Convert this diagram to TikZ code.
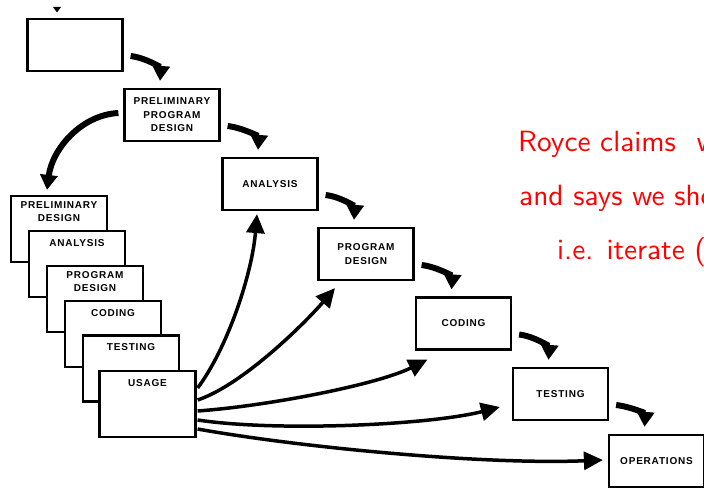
\documentclass[tikz,border=0pt]{standalone}
\usepackage{fontspec}
\usetikzlibrary{arrows.meta,calc}
\newfontfamily\boxfont[LetterSpace=8]{Liberation Sans}
\newfontfamily\notefont{lmsans10-regular.otf}
\begin{document}
\begin{tikzpicture}[x=1pt,y=-1pt,
  boxfnt/.style={font=\boxfont\bfseries\fontsize{10}{13.5}\selectfont},
  box/.style={draw, line width=2.2pt, fill=white, minimum width=95pt, minimum height=52pt, inner sep=0pt, align=center, boxfnt},
  stackbox/.style={draw, line width=2.2pt, fill=white, minimum width=96pt, minimum height=66pt, inner sep=0pt},
  lbl/.style={boxfnt, align=center, inner sep=0pt, anchor=north},
  chain/.style={line width=6pt, -{Triangle[width=17pt,length=15pt]}},
  fan/.style={line width=3.5pt, -{Triangle[width=18pt,length=19pt]}},
  note/.style={font=\notefont\fontsize{29.3}{32}\selectfont, text=red, anchor=base west, inner sep=0pt}]
\useasboundingbox (0,0) rectangle (704,489);
\clip (0,0) rectangle (704,489);
\fill[white] (0,0) rectangle (704,489);

% main cascade
\node[box] (top) at (75,45) {};
\node[box] (ppd) at (172,115) {PRELIMINARY\\PROGRAM\\DESIGN};
\node[box] (an) at (270,184) {ANALYSIS};
\node[box] (pd) at (366,254) {PROGRAM\\DESIGN};
\node[box] (cod) at (463.5,323.5) {CODING};
\node[box] (tst) at (560.5,394) {TESTING};
\node[box] (ops) at (656.5,461) {OPERATIONS};

% small arrow head above the top box
\fill (53,7) -- (61,7) -- (57,12.5) -- cycle;

% chain arrows
\foreach \a/\b in {top/ppd, ppd/an, an/pd, pd/cod, cod/tst, tst/ops}{
  \coordinate (\a-s) at ($(\a.east)+(7,11)$);
  \coordinate (\b-e) at ($(\b.north)+(-12,-7)$);
  \draw[chain] (\a-s) .. controls +(16,2) and +(1,-13) .. (\b-e);
}

% stacked boxes
\node[stackbox] (s1) at (59,229) {};
\node[lbl] (s1t) at ($(s1.north)+(0,6.5)$) {PRELIMINARY\\DESIGN};
\node[stackbox] (s2) at (77,264) {};
\node[lbl] (s2t) at ($(s2.north)+(0,9)$) {ANALYSIS};
\node[stackbox] (s3) at (95,299) {};
\node[lbl] (s3t) at ($(s3.north)+(0,6)$) {PROGRAM\\DESIGN};
\node[stackbox] (s4) at (113,334) {};
\node[lbl] (s4t) at ($(s4.north)+(0,9)$) {CODING};
\node[stackbox] (s5) at (131,368.5) {};
\node[lbl] (s5t) at ($(s5.north)+(0,9)$) {TESTING};
\node[stackbox] (s6) at (147.5,404) {};
\node[lbl] (s6t) at ($(s6.north)+(0,9)$) {USAGE};

% arrow from preliminary program design down to the stack
\coordinate (lA) at ($(ppd.west)+(-5,-2)$);
\coordinate (lB) at ($(s1.north)+(-12,-5)$);
\draw[chain] (lA) .. controls +(-38,2) and +(5,-40) .. (lB);

% fan of arrows from USAGE
\coordinate (f1) at ($(s6.east)+(1,-16)$);
\coordinate (f2) at ($(s6.east)+(1,-4)$);
\coordinate (f3) at ($(s6.east)+(1,7)$);
\coordinate (f4) at ($(s6.east)+(1,16)$);
\coordinate (f5) at ($(s6.east)+(1,25)$);
\coordinate (g1) at ($(an.south)+(-13,3)$);
\coordinate (g2) at ($(pd.south)+(-31,7)$);
\coordinate (g3) at ($(cod.south)+(-36,9)$);
\coordinate (g4) at ($(tst.west)+(-12,13)$);
\coordinate (g5) at ($(ops.west)+(-5,-1)$);
\draw[fan] (f1) .. controls +(30,-40) and +(-5,60) .. (g1);
\draw[fan] (f2) .. controls +(45,-15) and +(-30,35) .. (g2);
\draw[fan] (f3) .. controls +(70,-5) and +(-50,25) .. (g3);
\draw[fan] (f4) .. controls +(80,12) and +(-70,18) .. (g4);
\draw[fan] (f5) .. controls +(100,18) and +(-120,5) .. (g5);

% red note (cut off at the right edge, as in the reference)
\node[note] (n1) at (518,152) {Royce claims\hspace{21pt}w};
\node[note] (n2) at (519,206) {and says we sho};
\node[note] (n3) at (557,259) {i.e. iterate (};
\end{tikzpicture}
\end{document}
